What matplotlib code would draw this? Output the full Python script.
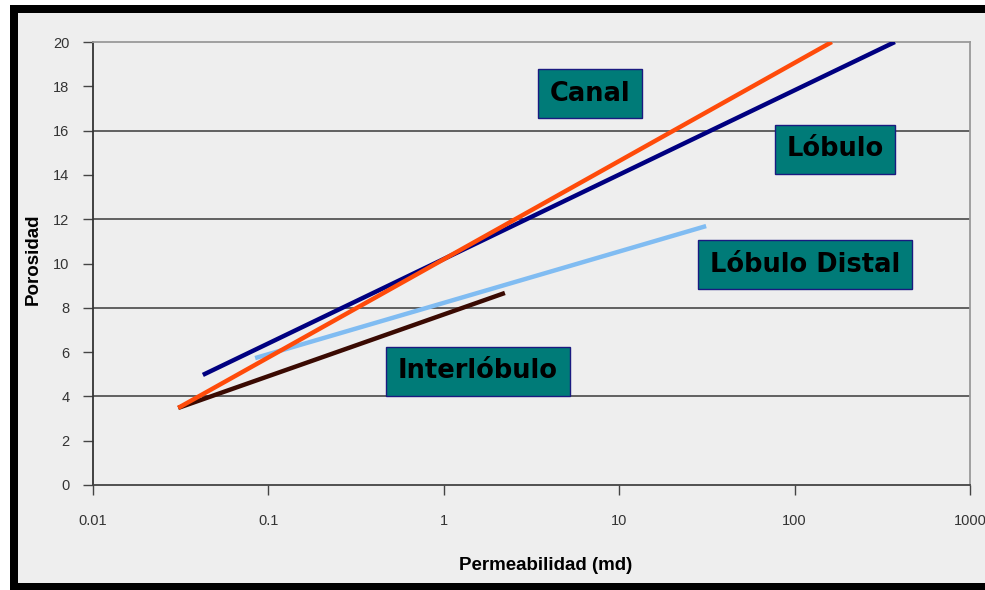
import matplotlib.pyplot as plt
from matplotlib.patches import Rectangle

# line endpoints (x = permeabilidad md, y = porosidad)
canal_x = [0.0306, 163]
canal_y = [3.48, 20.0]
lobulo_x = [0.0423, 373]
lobulo_y = [4.97, 20.0]
distal_x = [0.084, 31.3]
distal_y = [5.73, 11.69]
inter_x = [0.0306, 2.23]
inter_y = [3.48, 8.67]

x_ticks = [0.01, 0.1, 1, 10, 100, 1000]
x_labels = ['0.01', '0.1', '1', '10', '100', '1000']
y_ticks = [0, 2, 4, 6, 8, 10, 12, 14, 16, 18, 20]

plt.rcParams['font.family'] = ['Liberation Sans', 'DejaVu Sans']

W, H = 985, 590
fig = plt.figure(figsize=(W / 100, H / 100), dpi=100, facecolor='white')

# black frame with light grey inside
fig.patches.append(Rectangle((10 / W, 0), 1, (H - 5) / H, transform=fig.transFigure,
                             facecolor='black', edgecolor='none', zorder=-2))
fig.patches.append(Rectangle((18 / W, 7 / H), 1, 570 / H, transform=fig.transFigure,
                             facecolor='#eeeeee', edgecolor='none', zorder=-1))

ax = fig.add_axes([93 / W, (H - 485) / H, 877 / W, 443 / H])
ax.set_facecolor('#eeeeee')
ax.set_xscale('log')
ax.set_xlim(0.01, 1000)
ax.set_ylim(0, 20)

for y in [4, 8, 12, 16]:
    ax.axhline(y, color='#555555', lw=1.3, zorder=1)

ax.plot(lobulo_x, lobulo_y, color='#000080', lw=3.2, solid_capstyle='butt', zorder=3)
ax.plot(canal_x, canal_y, color='#ff4b0a', lw=3.2, solid_capstyle='butt', zorder=4)
ax.plot(distal_x, distal_y, color='#80bcf2', lw=3.2, solid_capstyle='butt', zorder=3)
ax.plot(inter_x, inter_y, color='#3a0a02', lw=3.2, solid_capstyle='butt', zorder=3)

ax.set_xticks(x_ticks)
ax.set_xticklabels(x_labels)
ax.xaxis.set_minor_locator(plt.NullLocator())
ax.set_yticks(y_ticks)
ax.tick_params(axis='x', length=7, width=1, color='#444444', pad=14,
               labelsize=10.5, labelcolor='#333333')
ax.tick_params(axis='y', length=7, width=1, color='#444444', pad=10,
               labelsize=10.5, labelcolor='#333333')

ax.spines['left'].set_color('#333333')
ax.spines['bottom'].set_color('#444444')
ax.spines['top'].set_color('#999999')
ax.spines['right'].set_color('#999999')
for s in ax.spines.values():
    s.set_linewidth(1.3)

ax.set_xlabel('Permeabilidad (md)', fontsize=13.5, fontweight='bold')
ax.set_ylabel('Porosidad', fontsize=13.5, fontweight='bold')
ax.xaxis.set_label_coords(0.516, -0.1625)
ax.yaxis.set_label_coords(-0.059, 0.51)

box = dict(boxstyle='square,pad=0.45', facecolor='#007b78', edgecolor='#1a1a80', lw=1)
labels = [('Canal', 0.567, 0.883), ('Lóbulo', 0.846, 0.758),
          ('Lóbulo Distal', 0.812, 0.497), ('Interlóbulo', 0.439, 0.257)]
for txt, fx, fy in labels:
    ax.text(fx, fy, txt, transform=ax.transAxes, ha='center', va='center',
            fontsize=18.5, fontweight='bold', family='DejaVu Sans', color='black',
            bbox=box, zorder=5)

fig.savefig('out.png', dpi=100, facecolor=fig.get_facecolor())
